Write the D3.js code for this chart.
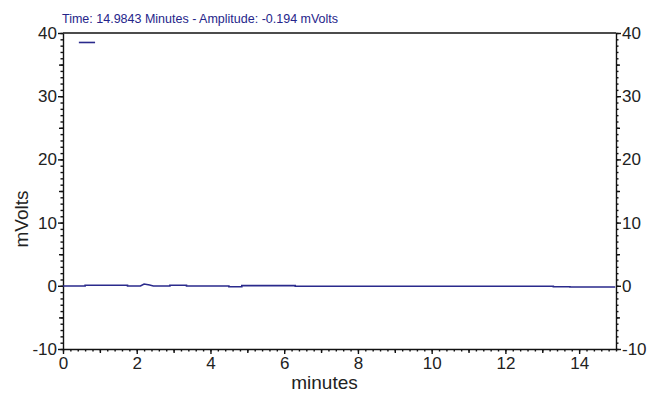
<!DOCTYPE html>
<html lang="en">
<head>
<meta charset="UTF-8">
<title>Chromatogram</title>
<script src="https://d3js.org/d3.v7.min.js"></script>
<style>
  body { margin: 0; background: #fff; font-family: "Liberation Sans", Arial, sans-serif; }
  .axis path, .axis line { stroke: #111; stroke-width: 1.4px; }
  .axis text { font-size: 17px; fill: #222; font-family: "Liberation Sans", Arial, sans-serif; }
  .trace { fill: none; stroke: #2a2a8c; stroke-width: 1.6px; }
</style>
</head>
<body>
<svg width="650" height="396"></svg>
<script>
// signal (minutes, mVolts)
const times  = [0, 0.6, 0.6, 1.75, 1.75, 2.1, 2.2, 2.35, 2.45, 2.9, 2.9, 3.35, 3.35, 4.5, 4.5, 4.85, 4.85, 6.3, 6.3, 13.3, 13.3, 13.75, 13.75, 14.98];
const values = [-0.03, -0.03, 0.08, 0.08, -0.03, -0.03, 0.29, 0.12, -0.03, -0.03, 0.08, 0.08, -0.03, -0.03, -0.14, -0.14, 0.02, 0.02, -0.08, -0.08, -0.16, -0.16, -0.19, -0.19];
// short legend stroke near the top
const legendTimes  = [0.43, 0.87];
const legendValues = [38.5, 38.5];

const xTicks = [0, 2, 4, 6, 8, 10, 12, 14];
const yTicks = [-10, 0, 10, 20, 30, 40];
const title = "Time: 14.9843 Minutes - Amplitude: -0.194 mVolts";

const svg = d3.select("svg");
const plotLeft = 63, plotRight = 616, plotTop = 33, plotBottom = 349;

const x = d3.scaleLinear().domain([0, 15]).range([plotLeft, plotRight]);
const y = d3.scaleLinear().domain([-10, 40]).range([plotBottom, plotTop]);
const plain = d => String(d); // hyphen minus like the original

// minor ticks
svg.append("g").attr("class", "axis").attr("transform", `translate(0,${plotBottom})`)
  .call(d3.axisBottom(x).tickValues(d3.range(0, 15.01, 0.2)).tickSize(2.5).tickFormat(""))
  .call(g => g.select(".domain").remove());
svg.append("g").attr("class", "axis").attr("transform", `translate(0,${plotBottom})`)
  .call(d3.axisBottom(x).tickValues(d3.range(1, 15, 2)).tickSize(4).tickFormat(""))
  .call(g => g.select(".domain").remove());
svg.append("g").attr("class", "axis").attr("transform", `translate(${plotLeft},0)`)
  .call(d3.axisLeft(y).tickValues(d3.range(-10, 40.5, 1)).tickSize(2.5).tickFormat(""))
  .call(g => g.select(".domain").remove());
svg.append("g").attr("class", "axis").attr("transform", `translate(${plotRight},0)`)
  .call(d3.axisRight(y).tickValues(d3.range(-10, 40.5, 1)).tickSize(2.5).tickFormat(""))
  .call(g => g.select(".domain").remove());
svg.append("g").attr("class", "axis").attr("transform", `translate(${plotLeft},0)`)
  .call(d3.axisLeft(y).tickValues(d3.range(-5, 40, 10)).tickSize(4).tickFormat(""))
  .call(g => g.select(".domain").remove());
svg.append("g").attr("class", "axis").attr("transform", `translate(${plotRight},0)`)
  .call(d3.axisRight(y).tickValues(d3.range(-5, 40, 10)).tickSize(4).tickFormat(""))
  .call(g => g.select(".domain").remove());

// major axes
svg.append("g").attr("class", "axis").attr("transform", `translate(0,${plotBottom})`)
  .call(d3.axisBottom(x).tickValues(xTicks).tickFormat(plain).tickSize(5).tickSizeOuter(0).tickPadding(3));
svg.append("g").attr("class", "axis").attr("transform", `translate(${plotLeft},0)`)
  .call(d3.axisLeft(y).tickValues(yTicks).tickFormat(plain).tickSize(5).tickSizeOuter(0).tickPadding(1));
svg.append("g").attr("class", "axis").attr("transform", `translate(${plotRight},0)`)
  .call(d3.axisRight(y).tickValues(yTicks).tickFormat(plain).tickSize(5).tickSizeOuter(0).tickPadding(1));

// top frame line
svg.append("line").attr("x1", plotLeft).attr("x2", plotRight).attr("y1", plotTop).attr("y2", plotTop)
  .attr("stroke", "#111").attr("stroke-width", 1.4);

const line = d3.line().x(d => x(d[0])).y(d => y(d[1]));
svg.append("path").attr("class", "trace")
  .attr("d", line(times.map((t, i) => [t, values[i]])));
svg.append("path").attr("class", "trace")
  .attr("d", line(legendTimes.map((t, i) => [t, legendValues[i]])));

svg.append("text").attr("x", plotLeft - 1).attr("y", 23)
  .attr("font-size", 12.5).attr("fill", "#25258a").text(title);

svg.append("text").attr("x", (plotLeft + plotRight) / 2 - 15).attr("y", 389)
  .attr("text-anchor", "middle").attr("font-size", 19).attr("fill", "#222").text("minutes");
svg.append("text").attr("transform", "translate(28,219) rotate(-90)")
  .attr("text-anchor", "middle").attr("font-size", 19).attr("fill", "#222").text("mVolts");
</script>
</body>
</html>
